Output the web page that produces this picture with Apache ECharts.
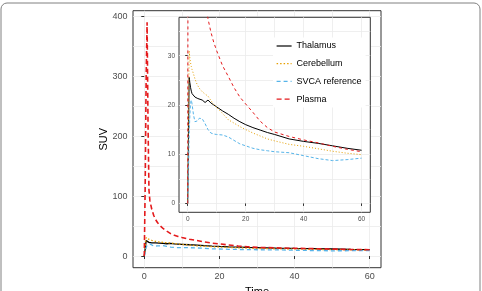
<!DOCTYPE html>
<html>
<head>
<meta charset="utf-8">
<script src="https://cdn.jsdelivr.net/npm/echarts@6/dist/echarts.min.js"></script>
<style>
  html, body { margin: 0; padding: 0; background: #fff; }
  #chart { width: 482px; height: 291px; }
</style>
</head>
<body>
<div id="chart"></div>
<script>
// time in minutes
const timePts = [0, 0.25, 0.5, 0.75, 1, 1.25, 1.5, 2, 2.5, 3, 3.5, 4, 5, 6, 7, 8, 9, 10, 12, 14, 16, 18, 20, 22.5, 25, 27.5, 30, 35, 40, 45, 50, 55, 60];
const thalamus = [0, 12, 25.6, 24.5, 23.5, 22.8, 22.3, 22.0, 21.6, 21.8, 21.3, 21.5, 21.0, 20.5, 21.0, 20.4, 20.0, 19.6, 18.8, 18.1, 17.3, 16.6, 16.0, 15.4, 14.9, 14.4, 14.0, 13.1, 12.6, 12.2, 11.7, 11.2, 10.8];
const cerebellum = [0, 15, 31, 29.5, 28.5, 27.8, 27.2, 26.3, 25.3, 24.5, 23.9, 23.4, 22.7, 22.2, 21.8, 20.9, 20.1, 19.5, 18.3, 17.0, 16.3, 15.6, 15.0, 14.3, 13.7, 13.1, 12.7, 12.0, 11.6, 11.1, 10.6, 10.2, 9.9];
const svca = [0, 6, 14, 18, 20.5, 21, 20.2, 18, 16.6, 16.4, 16.8, 17.3, 17.2, 16.2, 15.0, 14.3, 14.1, 14.0, 13.9, 13.5, 12.8, 12.1, 11.7, 11.2, 10.9, 10.7, 10.5, 10.3, 9.7, 9.1, 8.7, 8.9, 9.2];
const plasma = [0, 120, 300, 390, 220, 110, 92, 78, 68, 61, 56, 52, 46, 41.5, 37.5, 34.8, 32.7, 31, 28, 25.8, 23.5, 21.6, 20.2, 18.5, 16.7, 15.4, 14.5, 13.6, 12.9, 12.3, 11.6, 11.0, 10.5];

const regionNames = ["Thalamus", "Cerebellum", "SVCA reference", "Plasma"];
const mainXTicks = [0, 20, 40, 60];
const mainYTicks = [0, 100, 200, 300, 400];
const insetXTicks = [0, 20, 40, 60];
const insetYTicks = [0, 10, 20, 30];
const mainXGrid = [0, 10, 20, 30, 40, 50, 60];
const mainYGrid = [0, 50, 100, 150, 200, 250, 300, 350, 400];
const insetYGrid = [0, 5, 10, 15, 20, 25, 30, 35];

var chart = echarts.init(document.getElementById("chart"));

function pairs(vals) {
  return timePts.map((t, i) => [t, vals[i]]);
}

const FONT = "Liberation Sans";
const curves = [thalamus, cerebellum, svca, plasma];
const colors = ["#000000", "#E69F00", "#56B4E9", "#E41A1C"];
const mainStyles = [
  { width: 1.3, type: "solid" },
  { width: 1.3, type: [1.5, 2] },
  { width: 1.3, type: [4, 3] },
  { width: 1.6, type: [5, 3] },
];
const insetStyles = [
  { width: 1, type: "solid" },
  { width: 1, type: [1, 2] },
  { width: 1, type: [3, 2] },
  { width: 1, type: [3, 3] },
];

function makeAxis(opt) {
  // visible axis: ticks + labels from custom values
  return {
    type: "value",
    gridIndex: opt.grid,
    position: opt.pos,
    min: opt.min,
    max: opt.max,
    z: opt.z,
    axisLine: { show: false },
    axisTick: { show: true, length: opt.tickLen, customValues: opt.ticks, lineStyle: { color: "#333333" } },
    axisLabel: { customValues: opt.ticks, color: "#4D4D4D", fontSize: opt.fs, fontFamily: FONT, margin: opt.margin },
    splitLine: { show: false },
    name: opt.name || "",
    nameLocation: "middle",
    nameGap: opt.nameGap || 0,
    nameMoveOverlap: opt.moveOverlap !== false,
    nameTextStyle: { color: "#000", fontSize: 11, fontFamily: FONT },
  };
}
function gridAxis(opt) {
  // hidden axis used only for panel grid lines
  return {
    type: "value",
    gridIndex: opt.grid,
    position: opt.pos,
    min: opt.min,
    max: opt.max,
    z: opt.z,
    axisLine: { show: false },
    axisTick: { show: false, customValues: opt.lines },
    axisLabel: { show: false },
    splitLine: { show: true, lineStyle: { color: "#EBEBEB", width: 0.8 } },
  };
}

let series = [];
curves.forEach((c, i) => {
  series.push({
    name: regionNames[i],
    type: "line",
    xAxisIndex: 0,
    yAxisIndex: 0,
    data: pairs(c),
    symbol: "none",
    color: colors[i],
    lineStyle: { color: colors[i], width: mainStyles[i].width, type: mainStyles[i].type },
    z: 2,
  });
});
curves.forEach((c, i) => {
  series.push({
    name: regionNames[i],
    type: "line",
    xAxisIndex: 2,
    yAxisIndex: 2,
    data: pairs(c),
    symbol: "none",
    color: colors[i],
    lineStyle: { color: colors[i], width: insetStyles[i].width, type: insetStyles[i].type },
    z: 6,
  });
});

let option = {
  animation: false,
  backgroundColor: "#fff",
  graphic: [
    {
      type: "rect",
      shape: { x: 1, y: 3, width: 479, height: 320, r: 6 },
      style: { fill: null, stroke: "#808080", lineWidth: 1 },
      z: 20,
    },
  ],
  legend: {
    data: regionNames,
    orient: "vertical",
    left: 273,
    top: 37.5,
    padding: [3, 4, 3, 3],
    backgroundColor: "#fff",
    itemWidth: 15,
    itemHeight: 10,
    itemGap: 6.7,
    z: 10,
    itemStyle: { opacity: 0 },
    lineStyle: { width: 1.2 },
    textStyle: { color: "#000", fontSize: 9, fontFamily: FONT, lineHeight: 11 },
  },
  grid: [
    { left: 133, top: 10.7, width: 248, height: 257, outerBoundsMode: "none", containLabel: false, show: true, borderColor: "#333333", borderWidth: 1, backgroundColor: "#fff", z: 0 },
    { left: 179, top: 17.3, width: 191.3, height: 195, outerBoundsMode: "none", containLabel: false, show: true, borderColor: "#333333", borderWidth: 1, backgroundColor: "#fff", z: 4 },
  ],
  xAxis: [
    makeAxis({ grid: 0, pos: "bottom", min: -3, max: 63, ticks: mainXTicks, tickLen: 3, fs: 9, margin: 4.5, name: "Time", nameGap: 17, z: 0 }),
    gridAxis({ grid: 0, pos: "bottom", min: -3, max: 63, lines: mainXGrid, z: 0 }),
    makeAxis({ grid: 1, pos: "bottom", min: -3, max: 63, ticks: insetXTicks, tickLen: 2.5, fs: 6.5, margin: 3.2, z: 5 }),
    gridAxis({ grid: 1, pos: "bottom", min: -3, max: 63, lines: mainXGrid, z: 5 }),
  ],
  yAxis: [
    makeAxis({ grid: 0, pos: "left", min: -19.5, max: 409.5, ticks: mainYTicks, tickLen: 3, fs: 9, margin: 5.5, name: "SUV", nameGap: 24, moveOverlap: false, z: 0 }),
    gridAxis({ grid: 0, pos: "left", min: -19.5, max: 409.5, lines: mainYGrid, z: 0 }),
    makeAxis({ grid: 1, pos: "left", min: -1.8, max: 37.8, ticks: insetYTicks, tickLen: 2.5, fs: 6.5, margin: 4, z: 5 }),
    gridAxis({ grid: 1, pos: "left", min: -1.8, max: 37.8, lines: insetYGrid, z: 5 }),
  ],
  series: series,
};
chart.setOption(option);
</script>
</body>
</html>
